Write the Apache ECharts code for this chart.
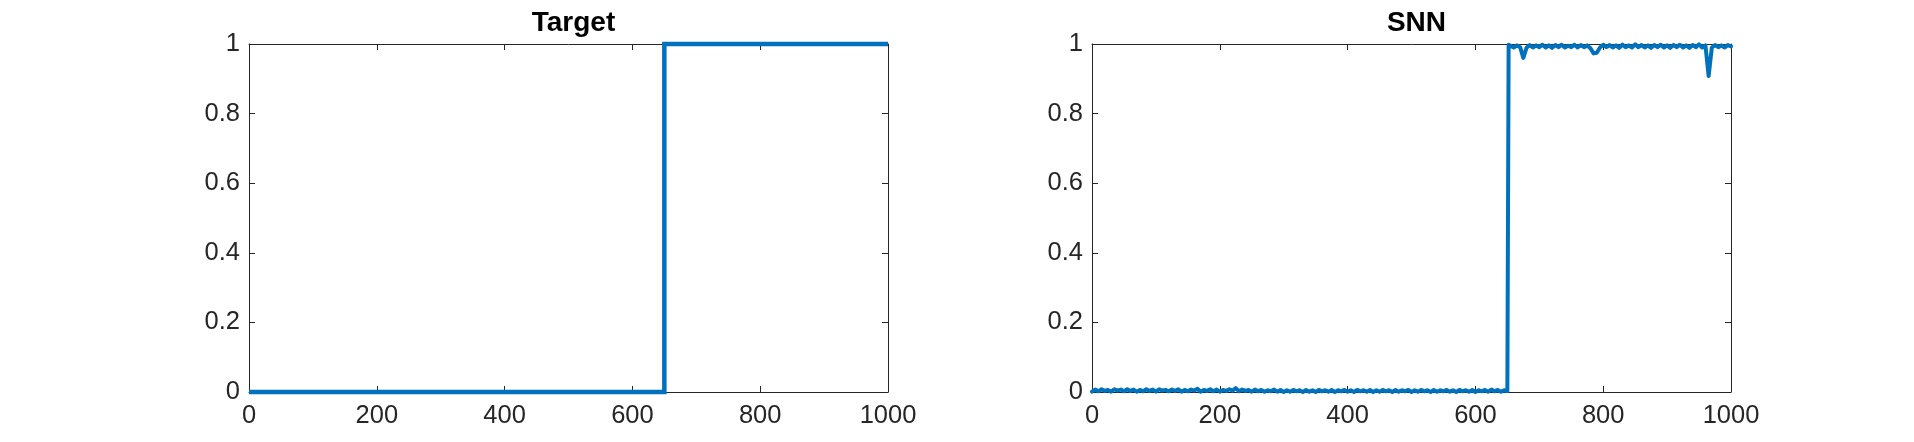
<!DOCTYPE html>
<html>
<head>
<meta charset="utf-8">
<script src="https://cdn.jsdelivr.net/npm/echarts@6/dist/echarts.min.js"></script>
<style>
html,body{margin:0;padding:0;background:#fff;}
#chart{width:1914px;height:442px;}
</style>
</head>
<body>
<div id="chart"></div>
<script>
// ---- data ----
const titles = ['Target', 'SNN'];
const xTicks = [0, 200, 400, 600, 800, 1000];
const yTicks = [0, 0.2, 0.4, 0.6, 0.8, 1];

// Target: step function
const targetX = [0, 650, 650, 1000];
const targetY = [0, 0, 1, 1];

// SNN output: low segment sampled every 5 from x=0 to 650
const snnLowStart = 0, snnStep = 5;
const snnLow = [
  0.001,0.007,0.002,0.008,0.003,0.006,0.001,0.008,0.004,0.007,
  0.002,0.008,0.003,0.007,0.001,0.006,0.002,0.008,0.003,0.007,
  0.001,0.008,0.004,0.006,0.002,0.007,0.003,0.008,0.001,0.006,
  0.002,0.007,0.004,0.009,0.001,0.006,0.003,0.008,0.002,0.007,
  0.001,0.006,0.003,0.008,0.004,0.011,0.002,0.007,0.003,0.006,
  0.001,0.007,0.002,0.006,0.001,0.005,0.002,0.007,0.001,0.006,
  0.000,0.005,0.001,0.006,0.002,0.005,0.000,0.006,0.001,0.005,
  0.000,0.006,0.002,0.005,0.001,0.006,0.000,0.005,0.002,0.006,
  0.001,0.005,0.000,0.006,0.002,0.005,0.001,0.006,0.000,0.005,
  0.001,0.006,0.002,0.005,0.000,0.006,0.001,0.005,0.002,0.006,
  0.000,0.005,0.001,0.006,0.002,0.005,0.000,0.006,0.001,0.005,
  0.002,0.006,0.001,0.005,0.000,0.006,0.002,0.005,0.001,0.006,
  0.000,0.005,0.002,0.006,0.001,0.007,0.002,0.006,0.001,0.005,
  0.003
];
// rise position
const snnRiseX = 652;
// high segment sampled every 5 from x=655 to 1000
const snnHighStart = 655;
const snnHigh = [
  0.998,0.990,0.996,0.991,0.960,0.989,0.997,0.990,0.996,0.991,
  0.998,0.990,0.996,0.989,0.997,0.991,0.998,0.990,0.995,0.991,
  0.998,0.990,0.997,0.991,0.996,0.988,0.973,0.975,0.990,0.998,
  0.991,0.997,0.990,0.996,0.989,0.998,0.991,0.996,0.990,0.999,
  0.991,0.997,0.990,0.996,0.989,0.997,0.991,0.998,0.990,0.996,
  0.989,0.997,0.991,0.998,0.990,0.996,0.989,0.997,0.991,0.999,
  0.990,0.996,0.908,0.990,0.997,0.991,0.996,0.990,0.997,0.993
];

// ---- build ----
const targetData = targetX.map((x, i) => [x, targetY[i]]);
const snnData = [];
snnLow.forEach((v, i) => snnData.push([snnLowStart + i * snnStep, v]));
snnData.push([snnRiseX, snnLow[snnLow.length - 1]]);
snnData.push([snnRiseX, snnHigh[0]]);
snnHigh.forEach((v, i) => snnData.push([snnHighStart + i * snnStep, v]));

const FONT = '"Liberation Sans", Arial, Helvetica, sans-serif';
const AX = '#262626';
const grids = [
  {left: 249, top: 44, width: 639, height: 348},
  {left: 1092, top: 44, width: 639, height: 348}
];

const xAxes = [], yAxes = [];
grids.forEach((g, gi) => {
  const common = {
    gridIndex: gi, type: 'value',
    axisLine: {show: true, onZero: false, lineStyle: {color: AX, width: 1}},
    axisTick: {show: true, inside: true, length: 6, lineStyle: {color: AX, width: 1}},
    splitLine: {show: false}
  };
  xAxes.push(Object.assign({}, common, {
    position: 'bottom', min: xTicks[0], max: xTicks[xTicks.length - 1],
    interval: xTicks[1] - xTicks[0],
    axisLabel: {show: true, fontFamily: FONT, fontSize: 25.5, color: AX, margin: 11,
      formatter: v => String(v)}
  }));
  xAxes.push(Object.assign({}, common, {
    position: 'top', min: xTicks[0], max: xTicks[xTicks.length - 1],
    interval: xTicks[1] - xTicks[0],
    axisLabel: {show: false}
  }));
  yAxes.push(Object.assign({}, common, {
    position: 'left', min: yTicks[0], max: yTicks[yTicks.length - 1],
    interval: 0.2,
    axisLabel: {show: true, fontFamily: FONT, fontSize: 25.5, color: AX, margin: 9,
      formatter: v => String(Math.round(v * 10) / 10)}
  }));
  yAxes.push(Object.assign({}, common, {
    position: 'right', min: yTicks[0], max: yTicks[yTicks.length - 1],
    interval: 0.2,
    axisLabel: {show: false}
  }));
});

const option = {
  backgroundColor: '#ffffff',
  animation: false,
  title: titles.map((t, i) => ({
    text: t,
    left: grids[i].left + grids[i].width / 2,
    textAlign: 'center',
    top: 4,
    textStyle: {fontFamily: FONT, fontSize: 28, fontWeight: 'bold', color: '#000'}
  })),
  grid: grids,
  xAxis: xAxes,
  yAxis: yAxes,
  series: [
    {type: 'line', xAxisIndex: 0, yAxisIndex: 0, data: targetData, showSymbol: false,
     symbol: 'none', clip: false,
     lineStyle: {color: '#0072BD', width: 4.5, join: 'miter', cap: 'butt'}},
    {type: 'line', xAxisIndex: 2, yAxisIndex: 2, data: snnData, showSymbol: false,
     symbol: 'none', clip: false,
     lineStyle: {color: '#0072BD', width: 4, join: 'round', cap: 'round'}}
  ]
};

const chart = echarts.init(document.getElementById('chart'), null, {renderer: 'canvas'});
chart.setOption(option);
</script>
</body>
</html>
